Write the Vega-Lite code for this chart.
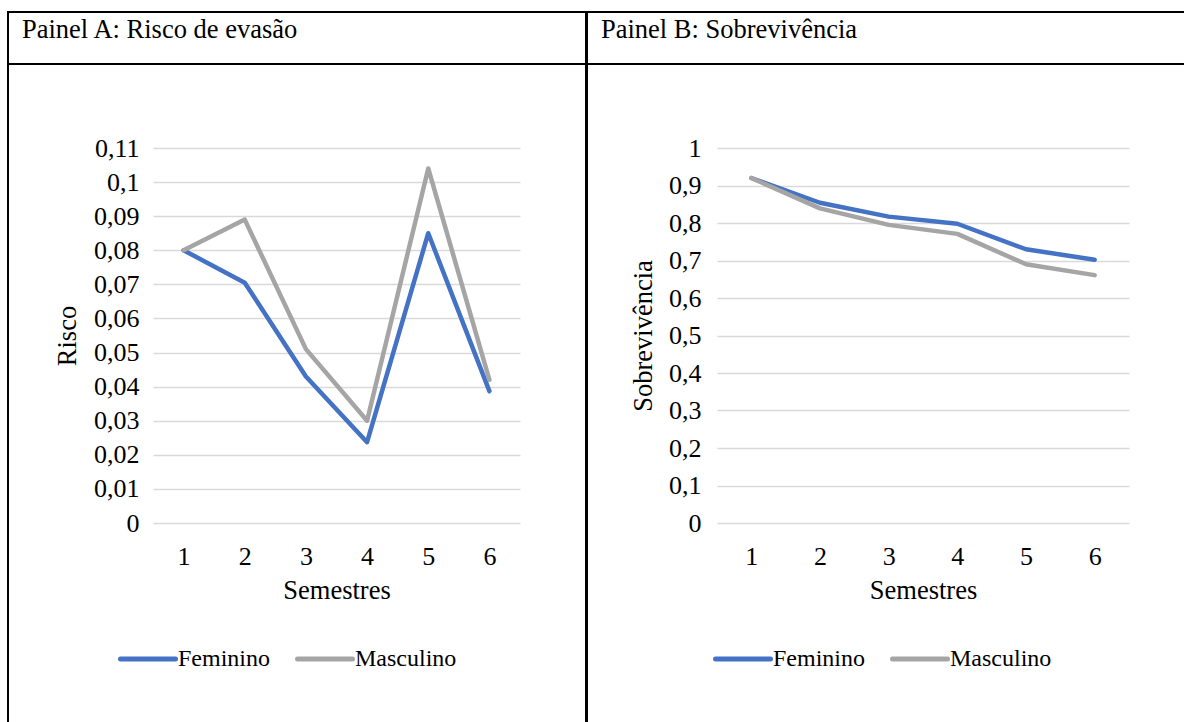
{
  "$schema": "https://vega.github.io/schema/vega-lite/v6.json",
  "padding": {"left": 7, "top": 11, "right": -13, "bottom": -13},
  "datasets": {
    "dados": [
      {"semestre": 1, "sexo": "Feminino", "risco": 0.080, "sobrevivencia": 0.920},
      {"semestre": 2, "sexo": "Feminino", "risco": 0.0705, "sobrevivencia": 0.854},
      {"semestre": 3, "sexo": "Feminino", "risco": 0.043, "sobrevivencia": 0.817},
      {"semestre": 4, "sexo": "Feminino", "risco": 0.0237, "sobrevivencia": 0.798},
      {"semestre": 5, "sexo": "Feminino", "risco": 0.085, "sobrevivencia": 0.730},
      {"semestre": 6, "sexo": "Feminino", "risco": 0.0387, "sobrevivencia": 0.702},
      {"semestre": 1, "sexo": "Masculino", "risco": 0.080, "sobrevivencia": 0.920},
      {"semestre": 2, "sexo": "Masculino", "risco": 0.089, "sobrevivencia": 0.839},
      {"semestre": 3, "sexo": "Masculino", "risco": 0.051, "sobrevivencia": 0.795},
      {"semestre": 4, "sexo": "Masculino", "risco": 0.030, "sobrevivencia": 0.771},
      {"semestre": 5, "sexo": "Masculino", "risco": 0.104, "sobrevivencia": 0.690},
      {"semestre": 6, "sexo": "Masculino", "risco": 0.042, "sobrevivencia": 0.661}
    ]
  },
  "config": {
    "font": "Liberation Serif",
    "view": {"stroke": "#000000", "strokeWidth": 2},
    "style": {"view": {"stroke": "#000000", "strokeWidth": 2}},
    "axis": {
      "labelFont": "Liberation Serif", "titleFont": "Liberation Serif",
      "labelColor": "#000000", "titleColor": "#000000",
      "titleFontWeight": "normal", "labelFontSize": 26, "titleFontSize": 26.5,
      "domain": false, "ticks": false
    },
    "legend": {
      "labelFont": "Liberation Serif", "labelColor": "#000000", "labelFontSize": 24
    }
  },
  "spacing": -2,
  "resolve": {"scale": {"color": "independent"}, "legend": {"color": "independent"}},
  "hconcat": [
    {
      "spacing": 0,
      "bounds": "flush",
      "resolve": {"scale": {"color": "independent"}, "legend": {"color": "independent"}},
      "vconcat": [
        {
          "width": 578, "height": 52,
          "view": {"stroke": "#000000", "strokeWidth": 2},
          "data": {"values": [{"t": "Painel A: Risco de evasão"}]},
          "mark": {"type": "text", "align": "left", "baseline": "alphabetic", "x": 14, "y": 26, "fontSize": 26.5, "font": "Liberation Serif", "color": "#000000"},
          "encoding": {"text": {"field": "t"}}
        },
        {
          "width": 578, "height": 670,
          "data": {"name": "dados"},
          "mark": {"type": "line", "strokeWidth": 4.5, "strokeCap": "round", "strokeJoin": "round"},
          "encoding": {
            "x": {
              "field": "semestre", "type": "ordinal",
              "scale": {"type": "point", "padding": 0.5, "range": [145, 512]},
              "axis": {"labelAngle": 0, "offset": -211, "labelPadding": 20, "title": "Semestres", "titlePadding": 8, "grid": false}
            },
            "y": {
              "field": "risco", "type": "quantitative",
              "scale": {"domain": [0, 0.11], "range": [459, 84], "nice": false},
              "axis": {
                "values": [0, 0.01, 0.02, 0.03, 0.04, 0.05, 0.06, 0.07, 0.08, 0.09, 0.1, 0.11],
                "labelExpr": "replace(format(datum.value, '.2~f'), '.', ',')",
                "offset": -145, "labelPadding": 14, "title": "Risco", "titlePadding": 12,
                "grid": true, "gridColor": "#D9D9D9", "gridWidth": 1.5
              }
            },
            "color": {
              "field": "sexo", "type": "nominal",
              "scale": {"domain": ["Feminino", "Masculino"], "range": ["#4472C4", "#A5A5A5"]},
              "legend": {
                "orient": "none", "legendX": 110, "legendY": 565, "direction": "horizontal", "title": null,
                "symbolType": "stroke", "symbolSize": 3025, "symbolStrokeWidth": 5, "labelOffset": 0, "columnPadding": 16,
                "encode": {"symbols": {"update": {"strokeCap": {"value": "round"}}}}
              }
            }
          }
        }
      ]
    },
    {
      "spacing": 0,
      "bounds": "flush",
      "resolve": {"scale": {"color": "independent"}, "legend": {"color": "independent"}},
      "vconcat": [
        {
          "width": 610, "height": 52,
          "view": {"stroke": "#000000", "strokeWidth": 2},
          "data": {"values": [{"t": "Painel B: Sobrevivência"}]},
          "mark": {"type": "text", "align": "left", "baseline": "alphabetic", "x": 14, "y": 26, "fontSize": 26.5, "font": "Liberation Serif", "color": "#000000"},
          "encoding": {"text": {"field": "t"}}
        },
        {
          "width": 610, "height": 670,
          "data": {"name": "dados"},
          "mark": {"type": "line", "strokeWidth": 4.5, "strokeCap": "round", "strokeJoin": "round"},
          "encoding": {
            "x": {
              "field": "semestre", "type": "ordinal",
              "scale": {"type": "point", "padding": 0.5, "range": [130, 542]},
              "axis": {"labelAngle": 0, "offset": -211, "labelPadding": 20, "title": "Semestres", "titlePadding": 8, "grid": false}
            },
            "y": {
              "field": "sobrevivencia", "type": "quantitative",
              "scale": {"domain": [0, 1], "range": [459, 84], "nice": false},
              "axis": {
                "values": [0, 0.1, 0.2, 0.3, 0.4, 0.5, 0.6, 0.7, 0.8, 0.9, 1],
                "labelExpr": "replace(format(datum.value, '.1~f'), '.', ',')",
                "offset": -130, "labelPadding": 16, "title": "Sobrevivência", "titlePadding": 11,
                "grid": true, "gridColor": "#D9D9D9", "gridWidth": 1.5
              }
            },
            "color": {
              "field": "sexo", "type": "nominal",
              "scale": {"domain": ["Feminino", "Masculino"], "range": ["#4472C4", "#A5A5A5"]},
              "legend": {
                "orient": "none", "legendX": 126, "legendY": 565, "direction": "horizontal", "title": null,
                "symbolType": "stroke", "symbolSize": 3025, "symbolStrokeWidth": 5, "labelOffset": 0, "columnPadding": 16,
                "encode": {"symbols": {"update": {"strokeCap": {"value": "round"}}}}
              }
            }
          }
        }
      ]
    }
  ]
}
